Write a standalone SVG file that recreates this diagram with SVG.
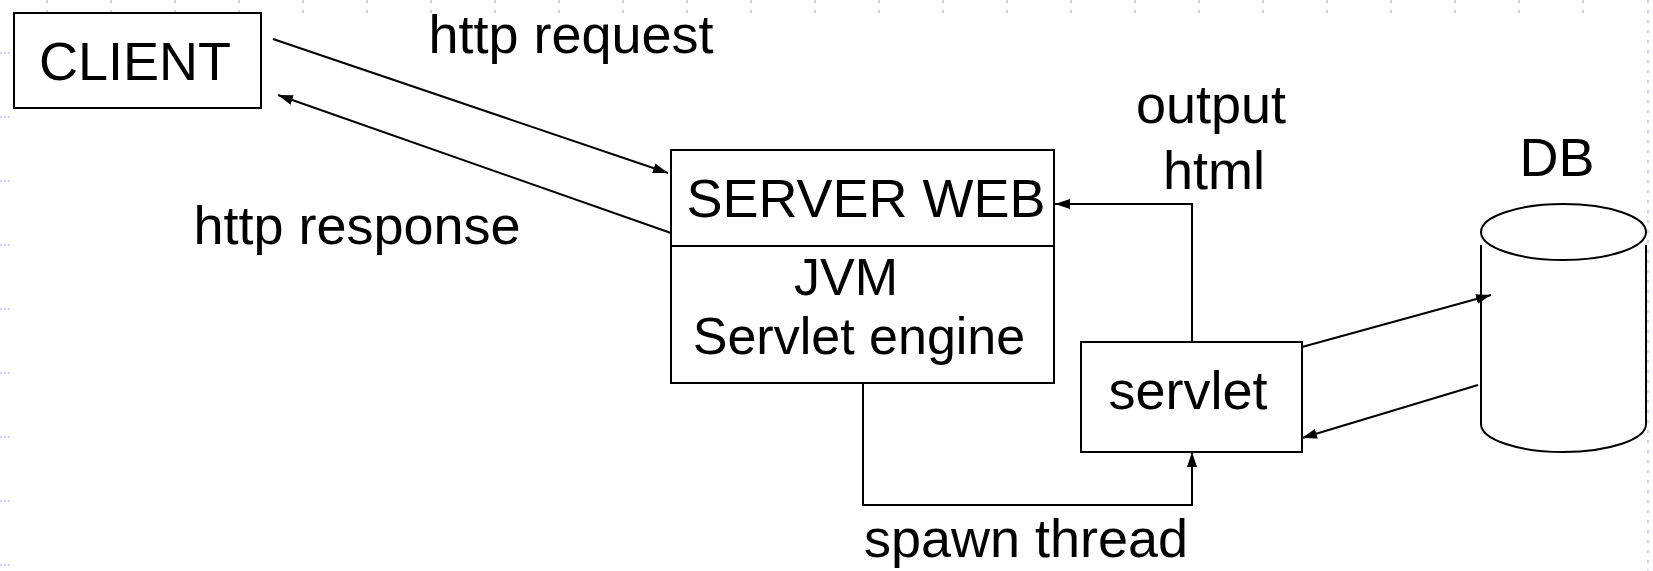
<svg xmlns="http://www.w3.org/2000/svg" width="1653" height="571" viewBox="0 0 1653 571">
<style>
.box{fill:none;stroke:#000;stroke-width:2}
.ln{fill:none;stroke:#000;stroke-width:2}
.t{font-family:"Liberation Sans",Arial,sans-serif;font-size:54px;fill:#000;text-anchor:middle}
.s{font-size:52px}
.grid{stroke:#c8d2f0;stroke-width:2;fill:none}
</style>
<defs>
<marker id="ah" viewBox="0 0 15 10" refX="15" refY="5" markerWidth="15" markerHeight="10" orient="auto" markerUnits="userSpaceOnUse">
<path d="M0,0 L15,5 L0,10 z" fill="#000"/>
</marker>
</defs>
<rect width="1653" height="571" fill="#fff"/>
<g id="grid">
<path class="grid" stroke-dasharray="2 2" d="M0,53h10M0,117h10M0,181h10M0,245h10M0,309h10M0,373h10M0,437h10M0,501h10M0,565h10"/>
<path class="grid" stroke-dasharray="3 7" d="M47,0v13M111,0v13M175,0v13M239,0v13M303,0v13M367,0v13M431,0v13M495,0v13M559,0v13M623,0v13M687,0v13M751,0v13M815,0v13M879,0v13M943,0v13M1007,0v13M1071,0v13M1135,0v13M1199,0v13M1263,0v13M1327,0v13M1391,0v13M1455,0v13M1519,0v13M1583,0v13"/>
<path class="grid" stroke-dasharray="3 7" d="M1648,0V571"/>
</g>
<g id="connectors">
<path class="ln" marker-end="url(#ah)" d="M273,39 L668,173"/>
<path class="ln" marker-end="url(#ah)" d="M671,233 L278,95"/>
<path class="ln" marker-end="url(#ah)" d="M1192,342 L1192,204 L1055,204"/>
<path class="ln" marker-end="url(#ah)" d="M863,383 L863,505 L1192,505 L1192,452"/>
<path class="ln" marker-end="url(#ah)" d="M1302,347 L1491,295"/>
<path class="ln" marker-end="url(#ah)" d="M1478,385 L1302,438"/>
</g>
<g id="client">
<rect class="box" x="14" y="13" width="247" height="95"/>
<text class="t" x="135" y="80">CLIENT</text>
</g>
<g id="server">
<rect class="box" x="671" y="150" width="383" height="233"/>
<line class="ln" x1="671" y1="246" x2="1054" y2="246"/>
<text class="t" x="866" y="217">SERVER WEB</text>
<text class="t s" x="846" y="295">JVM</text>
<text class="t s" x="859" y="354">Servlet engine</text>
</g>
<g id="servlet">
<rect class="box" x="1081" y="342" width="221" height="110"/>
<text class="t" x="1188" y="409">servlet</text>
</g>
<g id="db">
<ellipse class="box" cx="1563.5" cy="232" rx="82.5" ry="28"/>
<path class="box" d="M1481,245 V424 A82.5,28 0 0 0 1646,424 V245"/>
<text class="t" x="1557" y="176">DB</text>
</g>
<g id="labels">
<text class="t" x="571" y="53">http request</text>
<text class="t" x="357" y="244">http response</text>
<text class="t" x="1211" y="123">output</text>
<text class="t" x="1214" y="189">html</text>
<text class="t" x="1026" y="557">spawn thread</text>
</g>
</svg>
